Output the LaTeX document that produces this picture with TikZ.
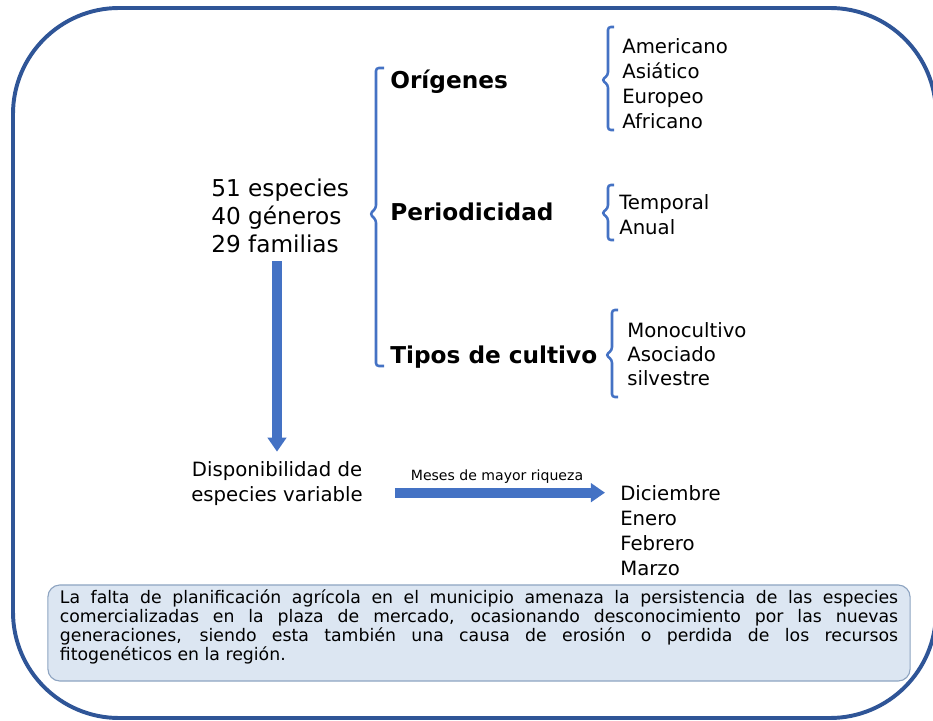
\documentclass[tikz,border=0pt]{standalone}
\usepackage{fontspec}
\setmainfont{DejaVu Sans}
\usetikzlibrary{arrows.meta,calc}
\definecolor{frameblue}{HTML}{2F5597}
\definecolor{accent}{HTML}{4472C4}
\definecolor{notefill}{HTML}{DCE6F2}
\definecolor{noteline}{HTML}{8EA4C1}
\tikzset{
    frame/.style={draw=frameblue, line width=2.8pt, rounded corners=2.65cm},
    bracket/.style={draw=accent, line width=1.8pt, rounded corners=2pt},
    bigarrow/.style={draw=accent, line width=7pt, -{Triangle[width=13pt,length=10pt]}},
    count/.style={inner sep=0pt, align=left, font=\fontsize{16.5}{19.9}\selectfont},
    head/.style={inner sep=0pt, anchor=base west, font=\fontsize{16.5}{20}\selectfont\bfseries},
    item/.style={inner sep=0pt, anchor=base west, font=\fontsize{14}{17.5}\selectfont},
    tag/.style={inner sep=0pt, anchor=base, font=\fontsize{10}{12}\selectfont},
    note/.style={draw=noteline, fill=notefill, line width=0.8pt, rounded corners=0.3cm,
        text width=20.95cm, align=justify, inner xsep=0.3cm, inner ysep=2pt,
        minimum height=2.4cm, font=\fontsize{12.3}{13.5}\selectfont}
}

\begin{document}
\begin{tikzpicture}[x=0.025cm, y=-0.025cm]
    \useasboundingbox (0, 0) rectangle (933, 721);
    \draw [frame] (13, 8) rectangle (936, 718);

    % left column
    \node [count, anchor=west] (counts) at (211, 216) {51 especies\\40 géneros\\29 familias};
    \node [count, align=center, font=\fontsize{14}{17.8}\selectfont] (disp) at (277, 484)
        {Disponibilidad de\\especies variable};

    % categories
    \node [head] (ori) at (390, 89) {Orígenes};
    \node [head] (per) at (390, 221) {Periodicidad};
    \node [head] (tip) at (390, 363) {Tipos de cultivo};

    \draw [bracket] (384, 68) -- (376, 68) -- (376, 208) -- (370, 214)
        -- (376, 220) -- (376, 366) -- (384, 366);
    \foreach \x/\t/\m/\b in {608/27/80/130, 608/185/213/240, 612/310/355/397}{
        \draw [bracket] (\x + 6, \t) -- (\x, \t) -- (\x, \m - 5) -- (\x - 6, \m)
            -- (\x, \m + 5) -- (\x, \b) -- (\x + 6, \b);
    }

    % items
    \foreach \s [count=\i] in {Americano, Asiático, Europeo, Africano}{
        \node [item] (ori\i) at (622, 29.3 + 24.7*\i) {\s};
    }
    \foreach \s [count=\i] in {Temporal, Anual}{
        \node [item] (per\i) at (619, 185 + 25*\i) {\s};
    }
    \foreach \s [count=\i] in {Monocultivo, Asociado, silvestre}{
        \node [item] (tip\i) at (627, 313 + 24*\i) {\s};
    }
    \foreach \s [count=\i] in {Diciembre, Enero, Febrero, Marzo}{
        \node [item] (mes\i) at (620, 475 + 25*\i) {\s};
    }

    % arrows
    \draw [bigarrow, shorten <=0.2cm, shorten >=0.25cm]
        (counts.south -| disp.north) -- (disp.north);
    \draw [bigarrow, shorten <=0.8cm, shorten >=0.375cm]
        (disp.east |- mes1.west) -- (mes1.west);
    \node [tag] (riqueza) at (497, 480) {Meses de mayor riqueza};

    % note
    \node [note] (note) at (479, 633) {La falta de planificación agrícola en el
        municipio amenaza la persistencia de las especies\linebreak comercializadas en
        la plaza de mercado, ocasionando desconocimiento por las nuevas\linebreak
        generaciones, siendo esta también una causa de erosión o perdida de los
        recursos\linebreak fitogenéticos en la región.\par\kern 0.3cm};
\end{tikzpicture}
\end{document}
